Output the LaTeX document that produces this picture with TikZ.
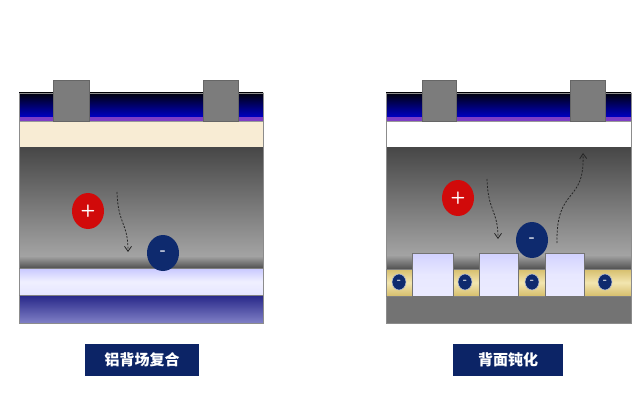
\documentclass[tikz,border=0pt]{standalone}
\usepackage{fontspec}
\newfontfamily\cjk{Noto Sans CJK SC}
\usetikzlibrary{arrows.meta,shapes.geometric}
\definecolor{navy}{HTML}{0C2466}
\definecolor{holeRed}{HTML}{D10A0A}
\definecolor{elecBlue}{HTML}{0E2A6E}
\definecolor{contact}{HTML}{7C7C7C}
\definecolor{cream}{HTML}{F8ECD4}
\definecolor{purp}{HTML}{7E3EC6}
\definecolor{goldEdge}{HTML}{D6BE6C}
\definecolor{goldMid}{HTML}{F2E5B0}
\tikzset{
  contactbox/.style={fill=contact,draw=black!60,line width=0.6pt},
  charge/.style={ellipse,minimum width=32pt,minimum height=36pt,inner sep=0pt,
    text=white,font=\sffamily\bfseries\LARGE},
  hole/.style={charge,fill=holeRed},
  electron/.style={charge,fill=elecBlue},
  smallel/.style={ellipse,minimum width=14pt,minimum height=16pt,inner sep=0pt,
    fill=elecBlue,draw=white!70!elecBlue,line width=0.6pt,text=white,font=\sffamily\bfseries\large},
  pathline/.style={line width=0.8pt,black!85,dash pattern=on 2pt off 1.5pt,-{Straight Barb[length=5pt,width=7pt]}},
  label/.style={fill=navy,text=white,font=\cjk\bfseries\fontsize{15}{18}\selectfont,
    minimum height=32pt,inner sep=0pt},
  block/.style={top color=blue!18!white,bottom color=white!92!blue,middle color=blue!9!white,
    draw=black!55,line width=0.6pt},
}
\begin{document}
\begin{tikzpicture}[x=1pt,y=-1pt]
\useasboundingbox[fill=white] (0,0) rectangle (643,401);

% ---------- aluminium back surface field cell ----------
\shade[top color=black!95!blue,bottom color=blue!80!black] (19,93) rectangle (263,118);
\fill[purp] (19,117) rectangle (263,121);
\fill[cream] (19,121) rectangle (263,148);
\draw[black!40,line width=0.5pt] (19,121) -- (263,121) (19,148) -- (263,148);
\shade[top color=black!72,bottom color=black!36] (19,148) rectangle (263,256);
\shade[top color=black!36,bottom color=black!68] (19,256) rectangle (263,268);
\shade[top color=blue!22!white,bottom color=blue!10!white,middle color=blue!6!white] (19,268) rectangle (263,295);
\shade[top color=blue!45!black!85,bottom color=blue!55!black!50!white] (19,295) rectangle (263,323);
\draw[black!45,line width=0.5pt] (19,93) rectangle (263,323);
\draw[black!50,line width=0.5pt] (19,268) -- (263,268) (19,295) -- (263,295);
\draw[contactbox] (53,80) rectangle (89,121);
\draw[contactbox] (203,80) rectangle (238,121);

\node[hole] (hA) at (88,211) {+};
\node[electron] (eA) at (163,253) {-};
\coordinate (sA) at (117,192);
\coordinate (tA) at (128,252);
\draw[pathline] (sA) .. controls (118,225) and (128,222) .. (tA);

\node[label,minimum width=114pt] (labA) at (142,360) {铝背场复合};

% ---------- rear passivated cell ----------
\shade[top color=black!95!blue,bottom color=blue!80!black] (386,93) rectangle (631,118);
\fill[purp] (386,117) rectangle (631,121);
\fill[white] (386,121) rectangle (631,148);
\draw[black!40,line width=0.5pt] (386,121) -- (631,121) (386,148) -- (631,148);
\shade[top color=black!72,bottom color=black!36] (386,148) rectangle (631,255);
\shade[top color=black!36,bottom color=black!68] (386,255) rectangle (631,269);
\shade[top color=goldEdge,bottom color=goldEdge,middle color=goldMid]
  (386,269) rectangle (631,296);
\fill[black!55] (386,296) rectangle (631,323);
\draw[black!45,line width=0.5pt] (386,93) rectangle (631,323);
\draw[black!50,line width=0.5pt] (386,269) -- (631,269) (386,296) -- (631,296);
\draw[block] (412,253) rectangle (453,296);
\draw[block] (479,253) rectangle (518,296);
\draw[block] (545,253) rectangle (584,296);
\draw[contactbox] (422,80) rectangle (456,121);
\draw[contactbox] (570,80) rectangle (605,121);

\node[smallel] (f1) at (399,282) {-};
\node[smallel] (f2) at (465,282) {-};
\node[smallel] (f3) at (532,282) {-};
\node[smallel] (f4) at (605,282) {-};

\node[hole] (hB) at (458,198) {+};
\node[electron] (eB) at (532,240) {-};
\coordinate (sB) at (487,179);
\coordinate (tB) at (498,239);
\draw[pathline] (sB) .. controls (488,212) and (498,210) .. (tB);
\coordinate (sC) at (557,243);
\coordinate (tC) at (583,153);
\draw[pathline] (sC) .. controls (556,185) and (585,205) .. (tC);

\node[label,minimum width=110pt] (labB) at (508,360) {背面钝化};
\end{tikzpicture}
\end{document}
